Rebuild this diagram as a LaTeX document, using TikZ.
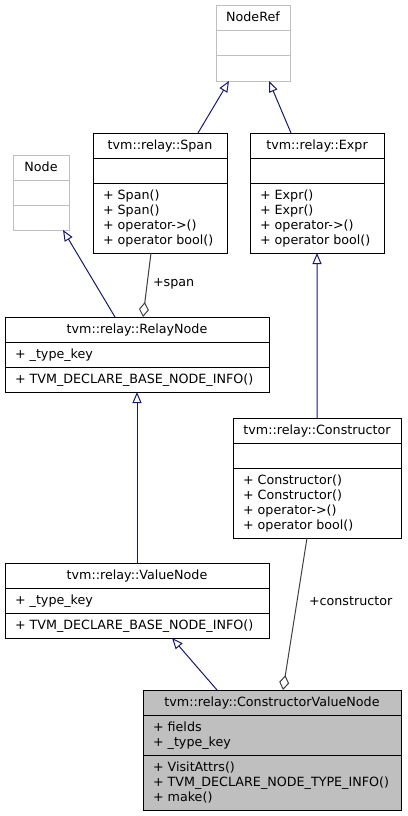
\documentclass[tikz,border=0pt]{standalone}
\usepackage{fontspec}
\setmainfont{DejaVu Sans}
\usetikzlibrary{arrows.meta,calc}
\definecolor{edgeblue}{HTML}{191970}
\definecolor{edgegray}{HTML}{404040}
\definecolor{boxgray}{HTML}{BFBFBF}
\tikzset{
  box/.style={draw=black, fill=white, line width=1bp, inner sep=0pt, outer sep=0pt, rectangle},
  fadedbox/.style={draw=boxgray, fill=white, line width=1bp, inner sep=0pt, outer sep=0pt, rectangle},
  focusbox/.style={draw=black, fill=boxgray, line width=1bp, inner sep=0pt, outer sep=0pt, rectangle},
  txt/.style={font=\fontsize{12.7bp}{15bp}\selectfont, inner sep=0pt, outer sep=0pt, text=black},
  inherit/.style={draw=edgeblue, line width=1bp, -{Triangle[open,length=11bp,width=9bp]}},
  aggr/.style={draw=edgegray, line width=1bp, -{Diamond[open,length=15bp,width=10bp]}},
}
\newcommand\umlbox[8]{%
  \node[#8, minimum width=#4bp, minimum height=#5bp, anchor=north west] (#1) at (#2,#3) {};
  \draw[#8] ($(#1.north west)+(0,#6)$) -- ($(#1.north east)+(0,#6)$);
  \draw[#8] ($(#1.north west)+(0,#7)$) -- ($(#1.north east)+(0,#7)$);
}
\newcommand\umltitle[2]{%
  \node[txt, anchor=base] (#1-title) at ($(#1.north)+(0,16)$) {#2};
}
\newcommand\umllines[4]{%
  \foreach \t [count=\i] in {#4} {
    \node[txt, anchor=base west] (#1-#2-\i) at ($(#1.north west)+(10,#3+1+15*\i)$) {\t};
  }
}
\begin{document}
\begin{tikzpicture}[x=1bp,y=-1bp]
\fill[white] (0,0) rectangle (407,816);
\useasboundingbox (0,0) rectangle (407,816);

% boxes
\umlbox{noderef}{216}{6}{74}{75}{25}{50}{fadedbox}
\umltitle{noderef}{NodeRef}

\umlbox{nodebox}{13}{155}{56}{75}{25}{50}{fadedbox}
\umltitle{nodebox}{Node}

\umlbox{span}{93}{133}{134}{120}{25}{50}{box}
\umltitle{span}{tvm::relay::Span}
\umllines{span}{m}{50}{+ Span(),+ Span(),+ operator->(),+ operator bool()}

\umlbox{expr}{250}{133}{134}{120}{25}{50}{box}
\umltitle{expr}{tvm::relay::Expr}
\umllines{expr}{m}{50}{+ Expr(),+ Expr(),+ operator->(),+ operator bool()}

\umlbox{relay}{5}{317}{264}{75}{25}{50}{box}
\umltitle{relay}{tvm::relay::RelayNode}
\umllines{relay}{a}{25}{+ \_type\_key}
\umllines{relay}{m}{50}{+ TVM\_DECLARE\_BASE\_NODE\_INFO()}

\umlbox{ctor}{233}{418}{168}{120}{25}{50}{box}
\umltitle{ctor}{tvm::relay::Constructor}
\umllines{ctor}{m}{50}{+ Constructor(),+ Constructor(),+ operator->(),+ operator bool()}

\umlbox{value}{5}{563}{264}{75}{25}{50}{box}
\umltitle{value}{tvm::relay::ValueNode}
\umllines{value}{a}{25}{+ \_type\_key}
\umllines{value}{m}{50}{+ TVM\_DECLARE\_BASE\_NODE\_INFO()}

\umlbox{cvn}{143}{690}{258}{120}{25}{65}{focusbox}
\umltitle{cvn}{tvm::relay::ConstructorValueNode}
\umllines{cvn}{a}{25}{+ fields,+ \_type\_key}
\umllines{cvn}{m}{65}{+ VisitAttrs(),+ TVM\_DECLARE\_NODE\_TYPE\_INFO(),+ make()}

% edges
\draw[inherit] ([xshift=105bp]span.north west) -- ([xshift=13bp]noderef.south west);
\draw[inherit] ([xshift=41bp]expr.north west) -- ([xshift=-21bp]noderef.south east);
\draw[inherit] ([xshift=110bp]relay.north west) -- ([xshift=50bp]nodebox.south west);
\draw[aggr] ([xshift=58bp]span.south west) -- ([xshift=138bp]relay.north west);
\draw[inherit] ([xshift=84bp]ctor.north west) -- ([xshift=67bp]expr.south west);
\draw[inherit] ([xshift=132bp]value.north west) -- ([xshift=132bp]relay.south west);
\draw[inherit] ([xshift=74bp]cvn.north west) -- ([xshift=167bp]value.south west);
\draw[aggr] ([xshift=74bp]ctor.south west) -- ([xshift=140bp]cvn.north west);

\node[txt, anchor=west] (spanlbl) at (153,284) {+span};
\node[txt, anchor=west] (ctorlbl) at (309,601) {+constructor};
\end{tikzpicture}
\end{document}
